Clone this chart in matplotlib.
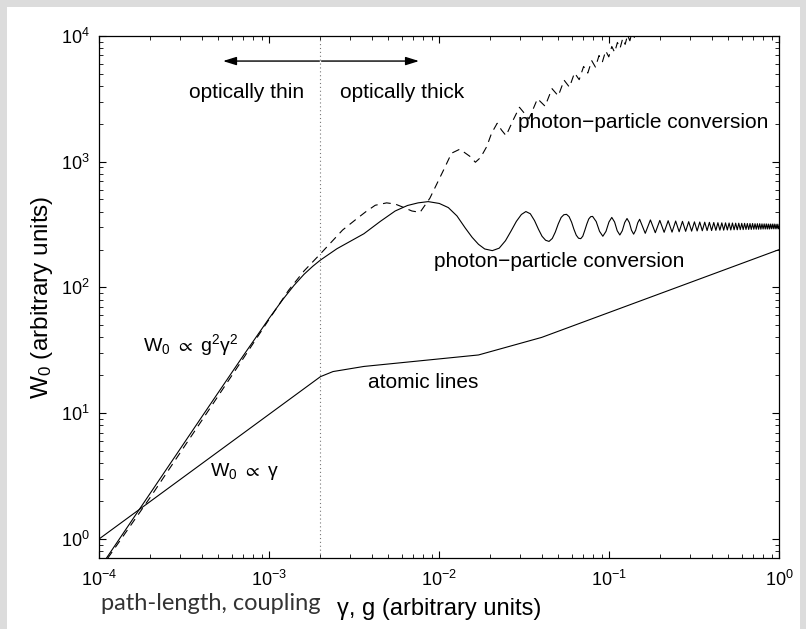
import matplotlib
matplotlib.use("Agg")
import numpy as np
import matplotlib.pyplot as plt
from matplotlib.patches import Rectangle
from matplotlib.ticker import LogLocator, NullFormatter

plt.rcParams['font.family'] = ['Liberation Sans', 'DejaVu Sans']
plt.rcParams['mathtext.fontset'] = 'custom'
plt.rcParams['mathtext.rm'] = 'Liberation Sans'
plt.rcParams['mathtext.it'] = 'Liberation Sans:italic'
plt.rcParams['mathtext.fallback'] = 'stixsans'

# W0 ~ gamma line, turning into the atomic lines curve
line_x = [1e-4, 2e-3, 2.37e-3, 3.6e-3, 1.7e-2, 4e-2, 1.0]
line_y = [1.0, 19.5, 21.4, 23.5, 29.0, 40.0, 200.0]

# solid photon-particle conversion curve: rise and first big wiggles
solid_rise_x = [1.1e-4, 2e-4, 4e-4, 7e-4, 1e-3, 1.2e-3, 1.4e-3, 1.6e-3, 1.8e-3, 2e-3,
                2.5e-3, 3e-3, 3.6e-3, 4.5e-3, 5.5e-3, 6.5e-3, 7.5e-3, 8.6e-3,
                0.0100, 0.0113, 0.0127, 0.0142, 0.0156, 0.0170, 0.0185, 0.0205, 0.0225, 0.0245,
                0.0264, 0.0284, 0.0304, 0.0323, 0.0343, 0.0363, 0.0383, 0.0402, 0.0422, 0.0442,
                0.0462, 0.0481, 0.0501, 0.0521, 0.0540, 0.0560, 0.0580, 0.0600, 0.0619, 0.0639,
                0.0659, 0.0679, 0.0698, 0.0718, 0.0738, 0.0757, 0.0777, 0.0797,
                0.0837, 0.0876, 0.0916, 0.0956, 0.0995, 0.1034, 0.1074, 0.1113, 0.1153, 0.1192,
                0.1232, 0.1271, 0.1311, 0.1350, 0.1390, 0.1429, 0.1469, 0.1508]
solid_rise_y = [0.70, 2.32, 9.3, 28.4, 57, 80, 104, 127, 147, 165,
                203, 233, 267, 335, 405, 448, 470, 481,
                465, 431, 370, 297, 250, 220, 202, 196, 205, 235,
                280, 335, 380, 401, 385, 340, 290, 255, 237, 232,
                245, 275, 320, 360, 378, 381, 365, 330, 290, 260,
                246, 244, 255, 285, 320, 350, 365, 367,
                334, 279, 255, 279, 331, 360, 331, 282, 261, 282,
                328, 353, 328, 285, 265, 285, 326, 348]

# fast wiggles, extrema only
solid_osc_x = [0.1627, 0.1745, 0.1864, 0.1982, 0.2101, 0.2219, 0.2338, 0.2456, 0.2575, 0.2693,
               0.2812, 0.2930, 0.3049, 0.3167, 0.3286, 0.3404, 0.3523, 0.3641, 0.3760, 0.3878,
               0.3997, 0.4115, 0.4234, 0.4352, 0.4471, 0.4589, 0.4708, 0.4826, 0.4945, 0.5063,
               0.5182, 0.5300, 0.5419, 0.5537, 0.5656, 0.5774, 0.5893, 0.6011, 0.6130, 0.6248,
               0.6367, 0.6485, 0.6604, 0.6722, 0.6841, 0.6959, 0.7078, 0.7196, 0.7315, 0.7433,
               0.7552, 0.7670, 0.7789, 0.7907, 0.8026, 0.8144, 0.8263, 0.8381, 0.8500, 0.8618,
               0.8737, 0.8855, 0.8974, 0.9092, 0.9211, 0.9329, 0.9448, 0.9566, 0.9685, 0.9803,
               0.9922, 1.0]
solid_osc_y = [269, 344, 272, 341, 274, 339, 275, 337, 277, 335,
               279, 333, 280, 332, 281, 331, 282, 330, 283, 329,
               283, 328, 284, 327, 285, 326, 285, 326, 286, 325,
               286, 325, 287, 324, 287, 324, 288, 323, 288, 323,
               289, 322, 289, 322, 289, 322, 290, 321, 290, 321,
               290, 321, 290, 320, 291, 320, 291, 320, 291, 319,
               291, 319, 292, 319, 292, 319, 292, 318, 292, 318,
               292, 305]

# dashed photon-particle conversion curve
dash_x = [1.12e-4, 2e-4, 4e-4, 7e-4, 1e-3, 1.3e-3, 1.6e-3, 2e-3, 2.7e-3, 3.3e-3,
          3.7e-3, 4.2e-3, 4.9e-3, 5.5e-3, 6.1e-3, 6.9e-3, 7.7e-3, 8.8e-3, 0.0106, 0.0118,
          0.0132, 0.0152, 0.0163, 0.0175, 0.0190, 0.0203, 0.0219, 0.0232, 0.0247, 0.0272,
          0.0296, 0.0337, 0.0378, 0.0419, 0.0460, 0.0501, 0.0542, 0.0583, 0.0624, 0.0665,
          0.0706, 0.0747, 0.0788, 0.0829, 0.0870, 0.0911, 0.0952, 0.0993, 0.1034, 0.1075,
          0.1116, 0.1157, 0.1198, 0.1239, 0.1280, 0.1321, 0.1362, 0.1403, 0.1444]
dash_y = [0.70, 2.15, 8.7, 27, 56, 95, 135, 185, 286, 355,
          400, 450, 470, 460, 435, 405, 395, 512, 859, 1167,
          1256, 1097, 989, 1080, 1316, 1683, 2019, 1786, 1609, 2145,
          2706, 2190, 3165, 2760, 3807, 3334, 4445, 3910, 5080, 4489,
          5717, 5065, 6352, 5645, 6981, 6232, 7611, 6814, 8243, 7400,
          8873, 7982, 9506, 8566, 10130, 9153, 10770, 9740, 11400]

boundary = 2e-3

fig = plt.figure(figsize=(8.06, 6.29), dpi=100, facecolor='#dcdcdc')
fig.patches.append(Rectangle((7 / 806, 0), 793 / 806, 622 / 629, transform=fig.transFigure,
                             facecolor='white', edgecolor='none', zorder=-10))
ax = fig.add_axes([0.1232, 0.1124, 0.8437, 0.8305])
ax.set_facecolor('white')

ax.plot(line_x, line_y, color='k', lw=0.8)
ax.plot(solid_rise_x + solid_osc_x, solid_rise_y + solid_osc_y, color='k', lw=0.8)
ax.plot(dash_x, dash_y, color='k', lw=0.8, dashes=(7, 5))
ax.axvline(boundary, color='#777777', lw=0.8, ls=(0, (1, 2.5)))

ax.set_xscale('log')
ax.set_yscale('log')
ax.set_xlim(1e-4, 1)
ax.set_ylim(0.7, 1e4)
for axis in (ax.xaxis, ax.yaxis):
    axis.set_major_locator(LogLocator(base=10, numticks=12))
    axis.set_minor_locator(LogLocator(base=10, subs=np.arange(2, 10), numticks=12))
    axis.set_minor_formatter(NullFormatter())

ax.tick_params(which='both', direction='in', top=True, right=True, labelsize=13)
ax.tick_params(axis='y', which='major', length=5, width=0.8, pad=7)
ax.tick_params(axis='x', which='major', length=5, width=0.8, pad=8)
ax.tick_params(which='minor', length=3, width=0.6)
for s in ax.spines.values():
    s.set_linewidth(0.9)

ax.set_xlabel('γ, g (arbitrary units)', fontsize=17, labelpad=6)
ax.set_ylabel(r'W$_0$ (arbitrary units)', fontsize=17.5, labelpad=4)

# arrows either side of the boundary
head = '-|>,head_length=0.8,head_width=0.25'
ax.annotate('', xy=(5.34e-4, 6310), xytext=(1.97e-3, 6310),
            arrowprops=dict(arrowstyle=head, color='k', lw=1.0, shrinkA=0, shrinkB=0))
ax.annotate('', xy=(7.6e-3, 6310), xytext=(2.03e-3, 6310),
            arrowprops=dict(arrowstyle=head, color='k', lw=1.0, shrinkA=0, shrinkB=0))

ax.text(7.3e-4, 3580, 'optically thin', ha='center', va='center', fontsize=15)
ax.text(6.04e-3, 3580, 'optically thick', ha='center', va='center', fontsize=15)
ax.text(0.029, 2032, 'photon\u2212particle conversion', ha='left', va='center', fontsize=15)
ax.text(9.3e-3, 162, 'photon\u2212particle conversion', ha='left', va='center', fontsize=15)
ax.text(3.81e-3, 17.4, 'atomic lines', ha='left', va='center', fontsize=15)
ax.text(1.81e-4, 35, r'W$_0$ ${\propto}$ g$^2$γ$^2$', ha='left', va='center', fontsize=14)
ax.text(4.48e-4, 3.42, r'W$_0$ ${\propto}$ γ', ha='left', va='center', fontsize=14)

fig.text(101 / 806, 0.040, 'path-length, coupling', ha='left', va='center',
         fontsize=17, color='#333333', family=['Lato', 'DejaVu Sans'])

fig.savefig('out.png', dpi=100, facecolor=fig.get_facecolor())
